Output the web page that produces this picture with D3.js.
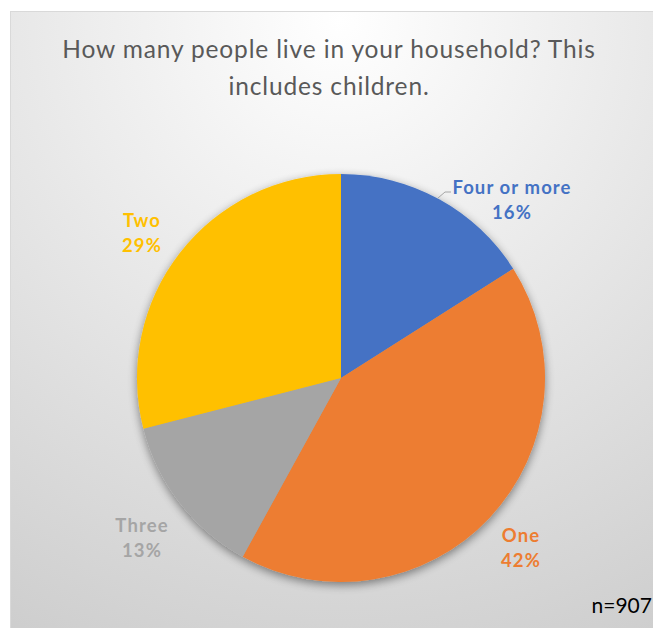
<!DOCTYPE html>
<html>
<head>
<meta charset="utf-8">
<script src="https://cdn.jsdelivr.net/npm/d3@7"></script>
<style>
  html, body { margin: 0; padding: 0; background: #ffffff; }
  svg { display: block; }
</style>
</head>
<body>
<div id="chart"></div>
<script>
// Household size survey responses (share of respondents, %)
const categories = ["Four or more", "One", "Three", "Two"];
const shares = [16, 42, 13, 29];
const sliceColors = ["#4472C4", "#ED7D31", "#A5A5A5", "#FFC000"];
const titleLines = ["How many people live in your household? This", "includes children."];
const sampleNote = "n=907";

const width = 653, height = 628;
const svg = d3.select("#chart").append("svg")
  .attr("width", width).attr("height", height);

const defs = svg.append("defs");
const bg = defs.append("radialGradient").attr("id", "bgGrad")
  .attr("gradientUnits", "userSpaceOnUse")
  .attr("cx", 340).attr("cy", 20).attr("r", 700);
bg.append("stop").attr("offset", "0%").attr("stop-color", "#ffffff");
bg.append("stop").attr("offset", "100%").attr("stop-color", "#cdcdcd");

const shadow = defs.append("filter").attr("id", "pieShadow")
  .attr("x", "-20%").attr("y", "-20%").attr("width", "140%").attr("height", "140%");
shadow.append("feGaussianBlur").attr("in", "SourceAlpha").attr("stdDeviation", 5).attr("result", "b");
shadow.append("feOffset").attr("in", "b").attr("dx", 0).attr("dy", 3).attr("result", "o");
shadow.append("feComponentTransfer").attr("in", "o").attr("result", "s")
  .append("feFuncA").attr("type", "linear").attr("slope", 0.45);
const merge = shadow.append("feMerge");
merge.append("feMergeNode").attr("in", "s");
merge.append("feMergeNode").attr("in", "SourceGraphic");

// Chart frame
svg.append("rect")
  .attr("x", 10.5).attr("y", 11.5)
  .attr("width", width).attr("height", height)
  .attr("fill", "url(#bgGrad)")
  .attr("stroke", "#d9d9d9").attr("stroke-width", 1);

// Title
svg.append("text")
  .attr("x", 329).attr("y", 58)
  .attr("text-anchor", "middle")
  .attr("font-family", "Lato, 'Open Sans', sans-serif")
  .attr("font-size", 24.5)
  .attr("letter-spacing", 0.85)
  .attr("fill", "#595959")
  .selectAll("tspan").data(titleLines).join("tspan")
  .attr("x", 329).attr("dy", (d, i) => i === 0 ? 0 : 37)
  .text(d => d);

// Pie
const cx = 341, cy = 378, radius = 204;
const pie = d3.pie().sort(null).value(d => d.value);
const arc = d3.arc().innerRadius(0).outerRadius(radius);
const data = categories.map((c, i) => ({ name: c, value: shares[i], color: sliceColors[i] }));
const arcs = pie(data);

const g = svg.append("g").attr("transform", `translate(${cx},${cy})`);
g.append("g").attr("filter", "url(#pieShadow)")
  .selectAll("path").data(arcs).join("path")
  .attr("d", arc)
  .attr("fill", d => d.data.color);

// Data labels placed outside the pie
const labelPos = {
  "Four or more": [512, 187],
  "One": [521, 535],
  "Three": [142, 525],
  "Two": [142, 220]
};
const labels = svg.append("g")
  .attr("font-family", "Lato, 'Open Sans', sans-serif")
  .attr("font-weight", "bold")
  .attr("font-size", 18.5)
  .attr("letter-spacing", 1.1)
  .attr("text-anchor", "middle");
arcs.forEach(a => {
  const [x, y] = labelPos[a.data.name];
  const t = labels.append("text").attr("fill", a.data.color);
  t.append("tspan").attr("x", x).attr("y", y + 7).text(a.data.name);
  t.append("tspan").attr("x", x).attr("y", y + 32).text(a.data.value + "%");
});

// Leader line for the "Four or more" label
svg.append("path")
  .attr("d", "M438,198 L445,192 L451,192")
  .attr("fill", "none").attr("stroke", "#a6a6a6").attr("stroke-width", 1);

// Sample size note
svg.append("text")
  .attr("x", 652).attr("y", 613)
  .attr("text-anchor", "end")
  .attr("font-family", "Lato, 'Open Sans', sans-serif")
  .attr("font-size", 21)
  .attr("fill", "#000000")
  .text(sampleNote);
</script>
</body>
</html>
